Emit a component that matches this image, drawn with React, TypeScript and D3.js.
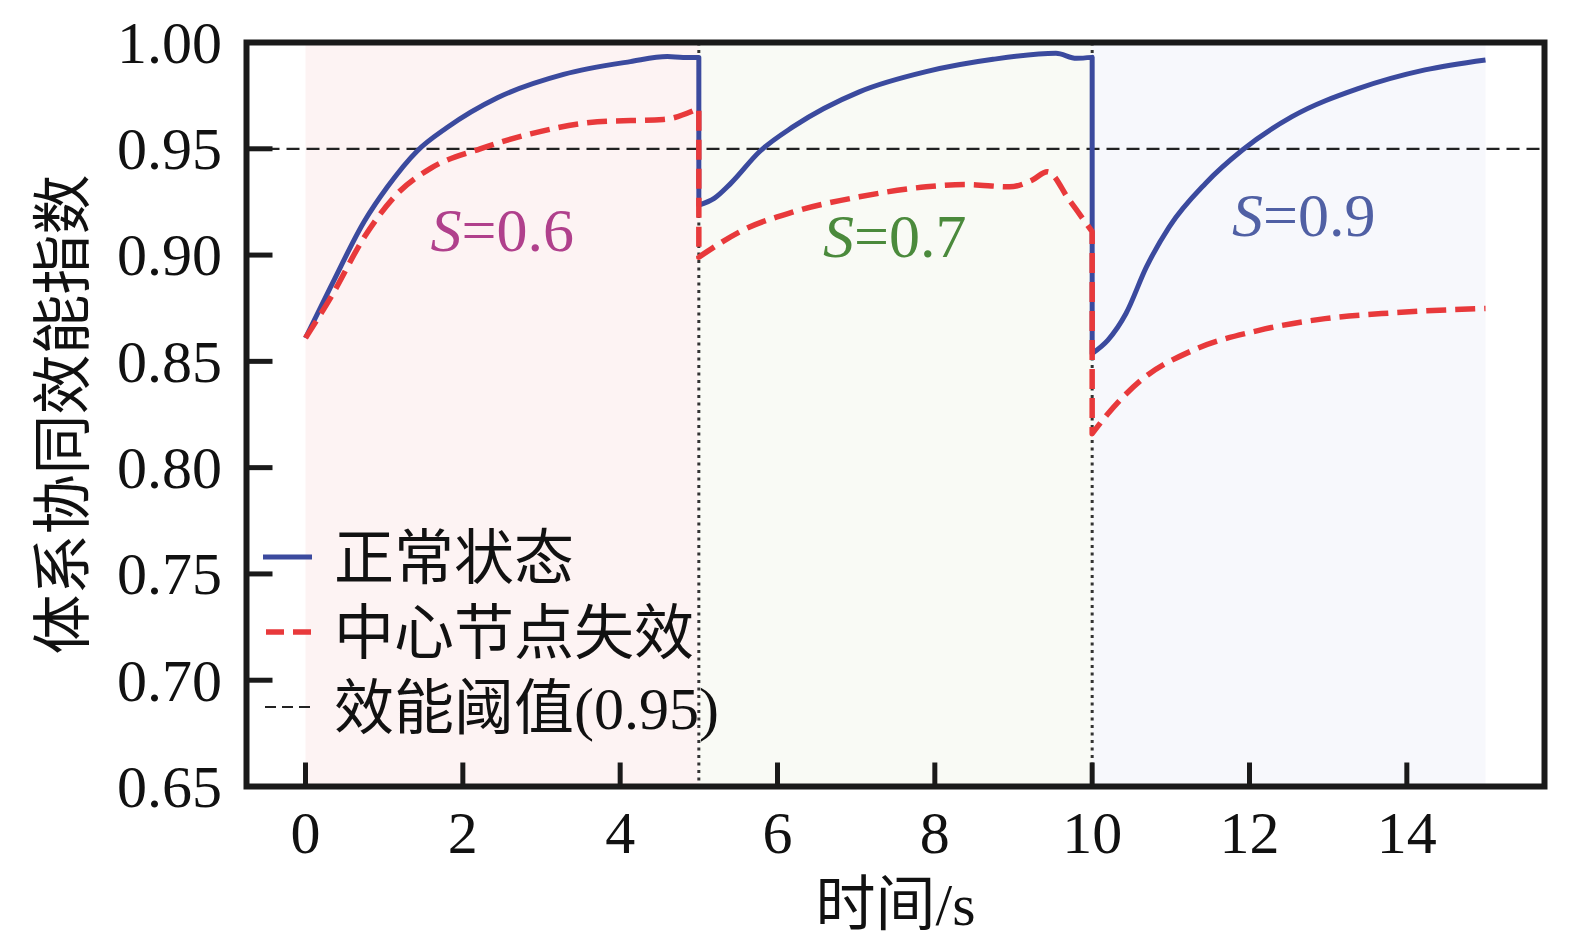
import React from "react";
import * as d3 from "d3";

// ---- data ----
const xTicks = [0, 2, 4, 6, 8, 10, 12, 14];
const yTicks = [0.65, 0.7, 0.75, 0.8, 0.85, 0.9, 0.95, 1.0];

const stageStarts = [0, 5, 10];
const stageEnds = [5, 10, 15];
const stageLabels = ["0.6", "0.7", "0.9"];
const stageLabelT = [2.5, 7.49, 12.69];
const stageLabelV = [0.902, 0.899, 0.909];
const stageFill = ["#FDF3F3", "#F9FAF5", "#F7F8FC"];
const stageTextColor = ["#B0408C", "#4B8A3C", "#5060A4"];

const threshold = 0.95;

const normalT1 = [0, 0.32, 0.75, 1.04, 1.42, 1.8, 2.44, 3.28, 4.13, 4.6, 4.8, 5.0];
const normalV1 = [0.861, 0.885, 0.916, 0.932, 0.949, 0.96, 0.974, 0.985, 0.991, 0.9934, 0.993, 0.993];
const normalT2 = [5.0, 5.2, 5.4, 5.77, 6.2, 7.04, 7.89, 8.74, 9.54, 9.8, 10.0];
const normalV2 = [0.9235, 0.9268, 0.9335, 0.9486, 0.9604, 0.9768, 0.9863, 0.9921, 0.9949, 0.9926, 0.993];
const normalT3 = [10.0, 10.2, 10.43, 10.69, 10.98, 11.44, 11.91, 12.54, 13.39, 14.23, 15.0];
const normalV3 = [0.8537, 0.86, 0.8725, 0.8944, 0.9133, 0.9337, 0.9494, 0.9651, 0.9784, 0.9871, 0.9918];

const failT1 = [0, 0.32, 0.75, 1.17, 1.59, 2.22, 2.86, 3.71, 4.55, 5.0];
const failV1 = [0.861, 0.88, 0.9086, 0.929, 0.9408, 0.95, 0.957, 0.9627, 0.9638, 0.969];
const failT2 = [5.0, 5.56, 6.2, 7.04, 7.89, 8.4, 8.95, 9.24, 9.43, 9.71, 10.0];
const failV2 = [0.899, 0.9117, 0.9203, 0.9274, 0.9321, 0.9332, 0.9321, 0.9353, 0.9392, 0.9258, 0.911];
const failT3 = [10.0, 10.2, 10.62, 11.28, 12.12, 12.96, 13.81, 15.0];
const failV3 = [0.816, 0.8254, 0.8411, 0.8552, 0.8646, 0.8701, 0.8728, 0.8749];

const legendLabels = ["正常状态", "中心节点失效", "效能阈值(0.95)"];

// ---- layout ----
const W = 1584;
const H = 941;
const left = 246.5;
const right = 1544.5;
const top = 42.5;
const bottom = 786.5;

const BLUE = "#3B4A9E";
const RED = "#E8393B";
const FONT = "'Liberation Serif', 'Noto Sans CJK SC', serif";

export default function App() {
  const x = d3.scaleLinear().domain([-0.75, 15.75]).range([left, right]);
  const y = d3.scaleLinear().domain([0.65, 1.0]).range([bottom, top]);

  const line = d3
    .line<[number, number]>()
    .x((d) => x(d[0]))
    .y((d) => y(d[1]))
    .curve(d3.curveMonotoneX);

  const joined = (segs: [number[], number[]][]) =>
    segs
      .map(([ts, vs], i) => {
        const p = line(ts.map((t, k) => [t, vs[k]] as [number, number])) || "";
        return i === 0 ? p : "L" + p.slice(1);
      })
      .join("");

  const normalPath = joined([
    [normalT1, normalV1],
    [normalT2, normalV2],
    [normalT3, normalV3],
  ]);
  const failPath = joined([
    [failT1, failV1],
    [failT2, failV2],
    [failT3, failV3],
  ]);

  const legendY = [557, 632, 707];

  return (
    <svg
      width={W}
      height={H}
      viewBox={`0 0 ${W} ${H}`}
      style={{ position: "absolute", left: 0, top: 0, background: "#fff" }}
      fontFamily={FONT}
    >
      <rect x={0} y={0} width={W} height={H} fill="#fff" />
      {stageStarts.map((s, i) => (
        <rect
          key={"bg" + i}
          x={x(s)}
          y={top}
          width={x(stageEnds[i]) - x(s)}
          height={bottom - top}
          fill={stageFill[i]}
        />
      ))}
      {[5, 10].map((t) => (
        <line
          key={"v" + t}
          x1={x(t)}
          x2={x(t)}
          y1={top}
          y2={bottom}
          stroke="#333"
          strokeWidth={3}
          strokeDasharray="3 4.5"
        />
      ))}
      <line
        x1={left}
        x2={right}
        y1={y(threshold)}
        y2={y(threshold)}
        stroke="#222"
        strokeWidth={2.2}
        strokeDasharray="13 7"
      />
      {stageLabels.map((lab, i) => (
        <text
          key={"s" + i}
          x={x(stageLabelT[i])}
          y={y(stageLabelV[i])}
          fontSize={62}
          fill={stageTextColor[i]}
          textAnchor="middle"
          fontFamily="'Liberation Serif', serif"
        >
          <tspan fontStyle="italic">S</tspan>
          <tspan>={lab}</tspan>
        </text>
      ))}
      <path d={normalPath} fill="none" stroke={BLUE} strokeWidth={5} strokeLinejoin="round" />
      <path
        d={failPath}
        fill="none"
        stroke={RED}
        strokeWidth={5.5}
        strokeDasharray="20 9"
        strokeLinejoin="round"
      />

      {/* legend */}
      <line x1={263} x2={312} y1={legendY[0]} y2={legendY[0]} stroke={BLUE} strokeWidth={5} />
      <line x1={266} x2={311} y1={legendY[1]} y2={legendY[1]} stroke={RED} strokeWidth={5.5} strokeDasharray="18 9" />
      <line x1={265} x2={311} y1={legendY[2]} y2={legendY[2]} stroke="#222" strokeWidth={2.2} strokeDasharray="11 6" />
      {legendLabels.map((l, i) => (
        <text key={"l" + i} x={334} y={legendY[i]} dy="0.36em" fontSize={60} fill="#111">
          {l}
        </text>
      ))}

      {/* ticks */}
      {xTicks.map((t) => (
        <g key={"xt" + t}>
          <line x1={x(t)} x2={x(t)} y1={bottom} y2={bottom - 24} stroke="#1a1a1a" strokeWidth={5} />
          <text x={x(t)} y={853} fontSize={60} textAnchor="middle" fill="#111">
            {t}
          </text>
        </g>
      ))}
      {yTicks.map((v) => (
        <g key={"yt" + v}>
          <line x1={left} x2={left + 26} y1={y(v)} y2={y(v)} stroke="#1a1a1a" strokeWidth={5} />
          <text x={222} y={y(v)} dy="0.34em" fontSize={60} textAnchor="end" fill="#111">
            {d3.format(".2f")(v)}
          </text>
        </g>
      ))}

      <rect
        x={left}
        y={top}
        width={right - left}
        height={bottom - top}
        fill="none"
        stroke="#1a1a1a"
        strokeWidth={6}
      />

      <text x={(left + right) / 2} y={925} fontSize={60} textAnchor="middle" fill="#111">
        时间/s
      </text>
      <text
        transform={`translate(84, ${(top + bottom) / 2}) rotate(-90)`}
        fontSize={60}
        textAnchor="middle"
        fill="#111"
      >
        体系协同效能指数
      </text>
    </svg>
  );
}
